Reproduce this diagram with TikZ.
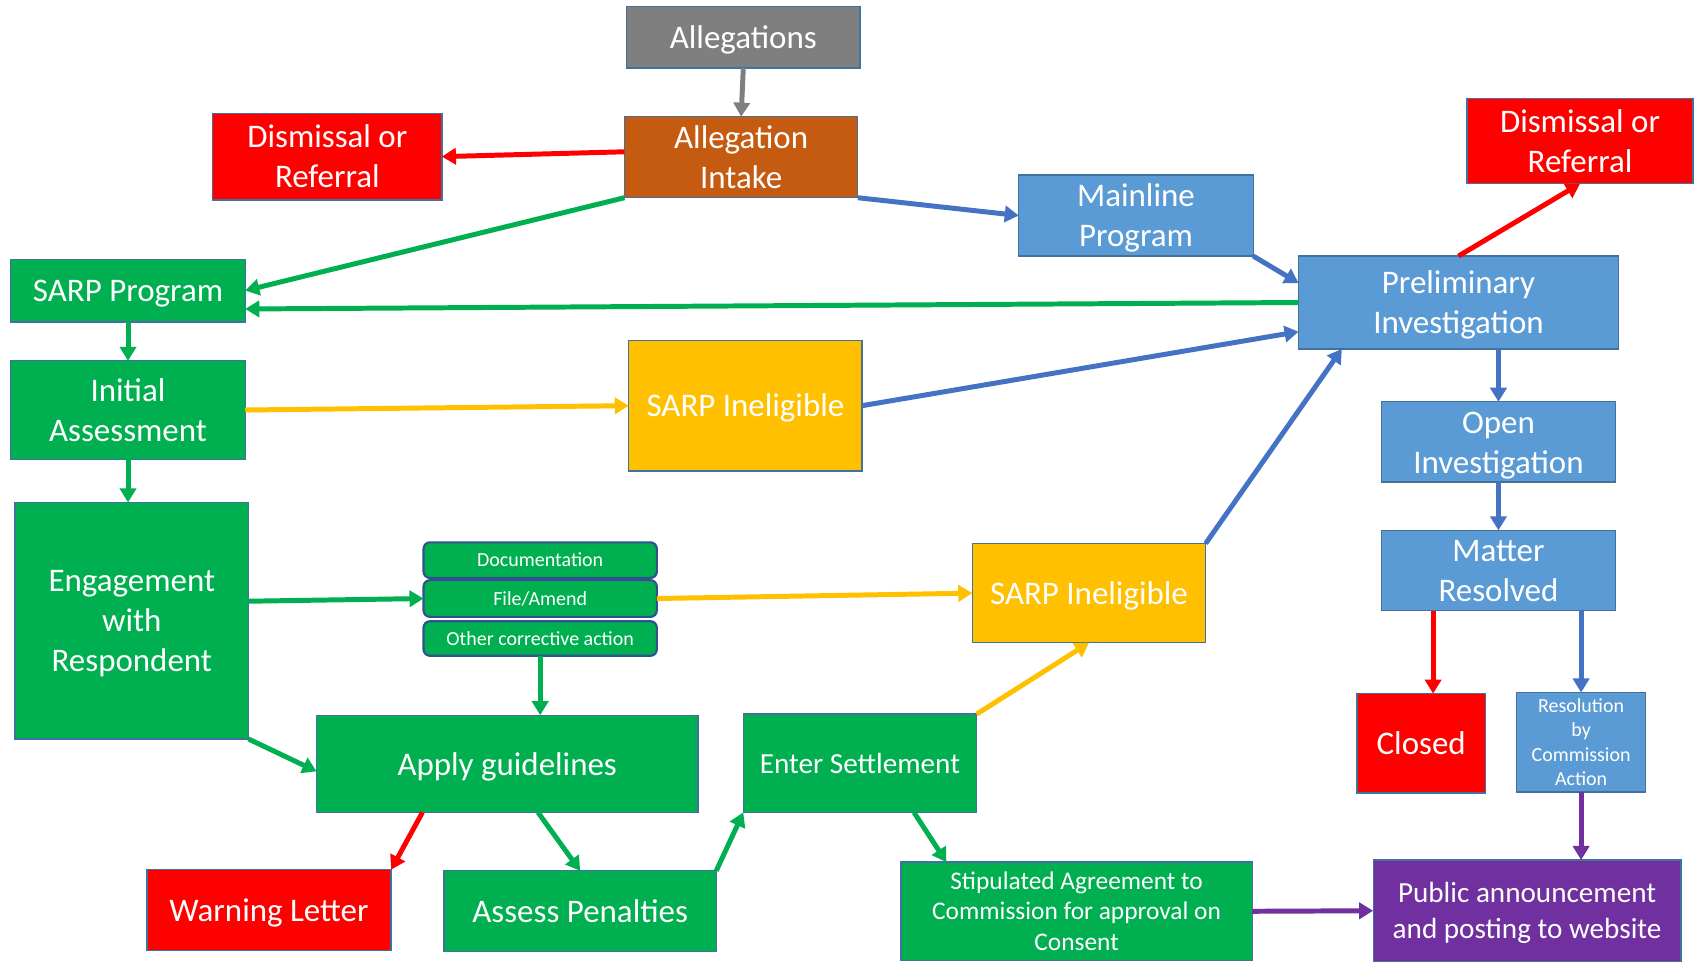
\documentclass[tikz,border=0pt]{standalone}
\usepackage{fontspec}
\setmainfont{Carlito}
\usetikzlibrary{arrows.meta,calc}
\definecolor{cgreen}{HTML}{00B050}
\definecolor{cblue}{HTML}{5B9BD5}
\definecolor{cablue}{HTML}{4472C4}
\definecolor{cred}{HTML}{FF0000}
\definecolor{cyellow}{HTML}{FFC000}
\definecolor{cpurple}{HTML}{7030A0}
\definecolor{cbrown}{HTML}{C55A11}
\definecolor{cgray}{HTML}{7F7F7F}
\definecolor{cedge}{HTML}{41719C}
\definecolor{cedgetwo}{HTML}{2F528F}
\tikzset{
 box/.style={draw=cedge, line width=1.2pt, text=white, align=center, inner sep=0pt, outer sep=0pt, font=\fontsize{30.5}{37}\selectfont},
 smallbox/.style={draw=cedgetwo, line width=2pt, rounded corners=6pt, fill=cgreen, font=\fontsize{18.5}{22}\selectfont},
 arr/.style={line width=4.6pt, -{Triangle[length=13pt,width=15pt]}},
}
\newcommand{\topstrut}{\vrule height .952em depth 0pt width 0pt\relax}
\newcommand{\botstrut}{\vrule height 0pt depth .269em width 0pt\relax}
\newcommand{\bx}[7]{\node[box,#6,minimum width={#4-#2},minimum height={#5-#3}] (#1) at ({(#2+#4)/2},{(#3+#5)/2}) {\topstrut #7\botstrut};}
\begin{document}
\begin{tikzpicture}[x=1pt,y=-1pt]
\useasboundingbox (0,0) rectangle (1568,891);
\bx{alleg}{580}{6}{796}{63}{fill=cgray}{Allegations}
\bx{intake}{578}{108}{794}{183}{fill=cbrown}{Allegation\\Intake}
\bx{dis1}{197}{105}{409}{185}{fill=cred}{Dismissal or\\Referral}
\bx{main}{943}{162}{1160}{237}{fill=cblue}{Mainline\\Program}
\bx{dis2}{1358}{91}{1567}{170}{fill=cred}{Dismissal or\\Referral}
\bx{prelim}{1202}{237}{1498}{323}{fill=cblue}{Preliminary\\Investigation}
\bx{sarp}{10}{240}{227}{298}{fill=cgreen}{SARP Program}
\bx{init}{10}{334}{227}{425}{fill=cgreen}{Initial\\Assessment}
\bx{inel1}{582}{315}{798}{436}{fill=cyellow}{SARP Ineligible}
\bx{open}{1279}{372}{1495}{446}{fill=cblue}{Open\\Investigation}
\bx{eng}{14}{465}{230}{684}{fill=cgreen}{Engagement\\with\\Respondent}
\bx{doc}{392}{502}{608}{535}{smallbox}{Documentation}
\bx{file}{392}{537}{608}{571}{smallbox}{File/Amend}
\bx{other}{392}{575}{608}{607}{smallbox}{Other corrective action}
\bx{inel2}{900}{503}{1116}{595}{fill=cyellow}{SARP Ineligible}
\bx{matter}{1279}{491}{1495}{565}{fill=cblue}{Matter\\Resolved}
\bx{closed}{1256}{642}{1375}{734}{fill=cred}{Closed}
\bx{res}{1404}{641}{1523}{733}{fill=cblue,font=\fontsize{18.5}{22.7}\selectfont}{Resolution\\by\\Commission\\Action}
\bx{apply}{293}{662}{646}{752}{fill=cgreen}{Apply guidelines}
\bx{enter}{688}{661}{904}{752}{fill=cgreen,font=\fontsize{27}{33}\selectfont}{Enter Settlement}
\bx{warn}{136}{805}{362}{880}{fill=cred}{Warning Letter}
\bx{assess}{411}{806}{663}{881}{fill=cgreen}{Assess Penalties}
\bx{stip}{834}{798}{1159}{889}{fill=cgreen,font=\fontsize{23.5}{28.5}\selectfont}{Stipulated Agreement to\\Commission for approval on\\Consent}
\bx{pub}{1271}{796}{1556}{890}{fill=cpurple,font=\fontsize{27}{33}\selectfont}{Public announcement\\and posting to website}

\draw[arr,cgray] (alleg.south) -- (intake.north);
\draw[arr,cred] ([yshift=5pt]intake.west) -- (dis1.east);
\draw[arr,cgreen] (intake.south west) -- (sarp.east);
\draw[arr,cablue] (intake.south east) -- (main.west);
\draw[arr,cablue] (main.south east) -- ([yshift=-25pt]prelim.north west);
\draw[arr,cgreen] (prelim.west) -- ([yshift=12pt]sarp.south east);
\draw[arr,cred] (prelim.north) -- (dis2.south);
\draw[arr,cablue] (inel1.east) -- ([yshift=16pt]prelim.south west);
\draw[arr,cablue] (inel2.north east) -- ([xshift=40pt]prelim.south west);
\draw[arr,cablue] (open.north |- prelim.south) -- (open.north);
\draw[arr,cablue] (open.south) -- (matter.north);
\coordinate (cl) at ([xshift=11pt]closed.north);
\draw[arr,cred] (cl |- matter.south) -- (cl);
\draw[arr,cablue] (res.north |- matter.south) -- (res.north);
\draw[arr,cpurple] (res.south) -- (res.south |- pub.north);
\draw[arr,cpurple] (stip.east) -- (pub.west);
\draw[arr,cgreen] ([xshift=158pt]enter.south west) -- ([xshift=42pt]stip.north west);
\draw[arr,cyellow] (enter.north east) -- (inel2.south);
\draw[arr,cgreen] (assess.north east) -- (enter.south west);
\draw[arr,cred] ([xshift=98pt]apply.south west) -- (warn.north east);
\draw[arr,cgreen] ([xshift=205pt]apply.south west) -- (assess.north);
\draw[arr,cgreen] (eng.south east) -- ([yshift=-7pt]apply.west);
\draw[arr,cgreen] ([yshift=18pt]eng.east) -- (file.west);
\draw[arr,cgreen] (other.south) -- (other.south |- apply.north);
\draw[arr,cyellow] (file.east) -- (inel2.west);
\draw[arr,cyellow] (init.east) -- (inel1.west);
\draw[arr,cgreen] (sarp.south) -- (init.north);
\draw[arr,cgreen] (init.south) -- (init.south |- eng.north);
\end{tikzpicture}
\end{document}
